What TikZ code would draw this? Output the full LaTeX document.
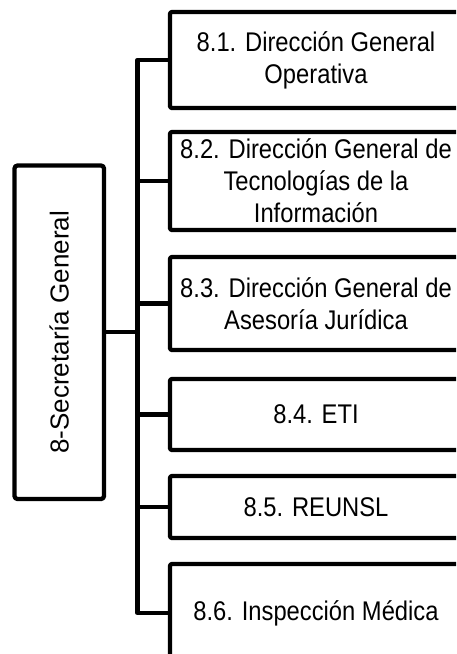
\documentclass[tikz,border=0pt]{standalone}
\usepackage{fontspec}
\setmainfont{Liberation Sans}
\newfontfamily\boxfont{Liberation Sans}[FakeStretch=0.88]
\usetikzlibrary{calc}

\begin{document}
\begin{tikzpicture}[x=1pt, y=-1pt, line width=4.3pt, line join=round,
		unitbox/.style={draw, rounded corners=2pt, minimum width=292pt, align=center,
			inner sep=0pt, font=\boxfont\fontsize{27}{32}\selectfont},
		headbox/.style={draw, rounded corners=3pt, minimum width=89.5pt, minimum height=333.5pt,
			inner sep=0pt, font=\fontsize{26}{30}\selectfont}]
		%%%%% START %%%%%
		
		\useasboundingbox (0, 0) rectangle (456, 654);
		\clip (0, 0) rectangle (456, 654);
		
		\node[headbox] (sec) at (59.25, 332.25) {\rotatebox{90}{8-Secretaría General}};
		
		\node[unitbox, minimum height=96pt] (b1) at (316, 60) {8.1. Dirección General\\Operativa};
		\node[unitbox, minimum height=98pt] (b2) at (316, 181) {8.2. Dirección General de\\Tecnologías de la\\Información};
		\node[unitbox, minimum height=93pt] (b3) at (316, 303.5) {8.3. Dirección General de\\Asesoría Jurídica};
		\node[unitbox, minimum height=71pt] (b4) at (316, 414.5) {8.4. ETI};
		\node[unitbox, minimum height=62pt] (b5) at (316, 507) {8.5. REUNSL};
		\node[unitbox, minimum height=98pt] (b6) at (316, 613) {8.6. Inspección Médica};
		
		\coordinate (spine) at (137.5, 0);
		
		\draw (b1.west) -| (spine |- b6.west) -- (b6.west);
		\draw (b2.west) -- (spine |- b2.west);
		\draw (b3.west) -- (spine |- b3.west);
		\draw (b4.west) -- (spine |- b4.west);
		\draw (b5.west) -- (spine |- b5.west);
		\draw (sec.east) -- (spine |- sec.east);
		
		%%%%% END %%%%%
	\end{tikzpicture}
\end{document}
